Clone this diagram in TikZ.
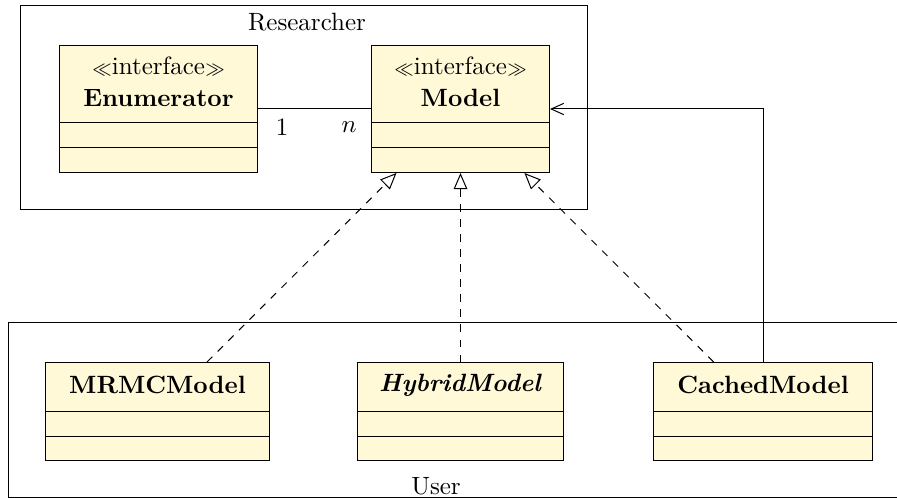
\documentclass[tikz,border=0pt]{standalone}
\usetikzlibrary{arrows.meta,calc}
\definecolor{classfill}{RGB}{255,249,216}
\newcommand{\stereo}[1]{$\scriptstyle\ll$#1$\scriptstyle\gg$}
\begin{document}
\begin{tikzpicture}[x=0.40pt,y=-0.40pt,
  frame/.style={draw, line width=0.4pt},
  umlclass/.style={draw, fill=classfill, rectangle, inner sep=0pt, anchor=north west},
  realize/.style={dashed, -{Triangle[open,length=6.5pt,width=5.5pt]}},
  assoc/.style={-{Straight Barb[length=5pt,width=4.5pt]}}]
\useasboundingbox (0,0) rectangle (897,498);
% frames
\draw[frame] (20,6) rectangle (587,210);
\node (reslabel) at (307,22) {Researcher};
\draw[frame] (8,322) -- (910,322) (910,497) -- (8,497) -- (8,322);
\node (userlabel) at (436,486) {User};
% classes
\node[umlclass, minimum width=198*0.40pt, minimum height=127*0.40pt] (enum) at (59,45) {};
\node[umlclass, minimum width=178*0.40pt, minimum height=127*0.40pt] (model) at (371,45) {};
\node[umlclass, minimum width=224*0.40pt, minimum height=98*0.40pt] (mrmc) at (45,362) {};
\node[umlclass, minimum width=206*0.40pt, minimum height=98*0.40pt] (hybrid) at (357,362) {};
\node[umlclass, minimum width=219*0.40pt, minimum height=98*0.40pt] (cached) at (653,362) {};
\foreach \c in {enum,model,mrmc,hybrid,cached}{
  \draw ($(\c.south west)+(0,-25)$) -- ($(\c.south east)+(0,-25)$);
  \draw ($(\c.south west)+(0,-50)$) -- ($(\c.south east)+(0,-50)$);
}
\node[align=center] (enumname) at ($(enum.north)+(0,37)$) {\stereo{interface}\\[1pt]\textbf{Enumerator}};
\node[align=center] (modelname) at ($(model.north)+(0,37)$) {\stereo{interface}\\[1pt]\textbf{Model}};
\node (mrmcname) at ($(mrmc.north)+(0,23)$) {\textbf{MRMCModel}};
\node (hybridname) at ($(hybrid.north)+(0,23)$) {\textbf{\textit{HybridModel}}};
\node (cachedname) at ($(cached.north)+(0,23)$) {\textbf{CachedModel}};
% connectors
\draw (enum) -- (model);
\node (m1) at (282,127) {1};
\node (mn) at (349,127) {$n$};
\draw[realize] (mrmc) -- (model);
\draw[realize] (hybrid) -- (model);
\draw[realize] (cached) -- (model);
\draw[assoc] (cached.north) |- (model.east);
\end{tikzpicture}
\end{document}
